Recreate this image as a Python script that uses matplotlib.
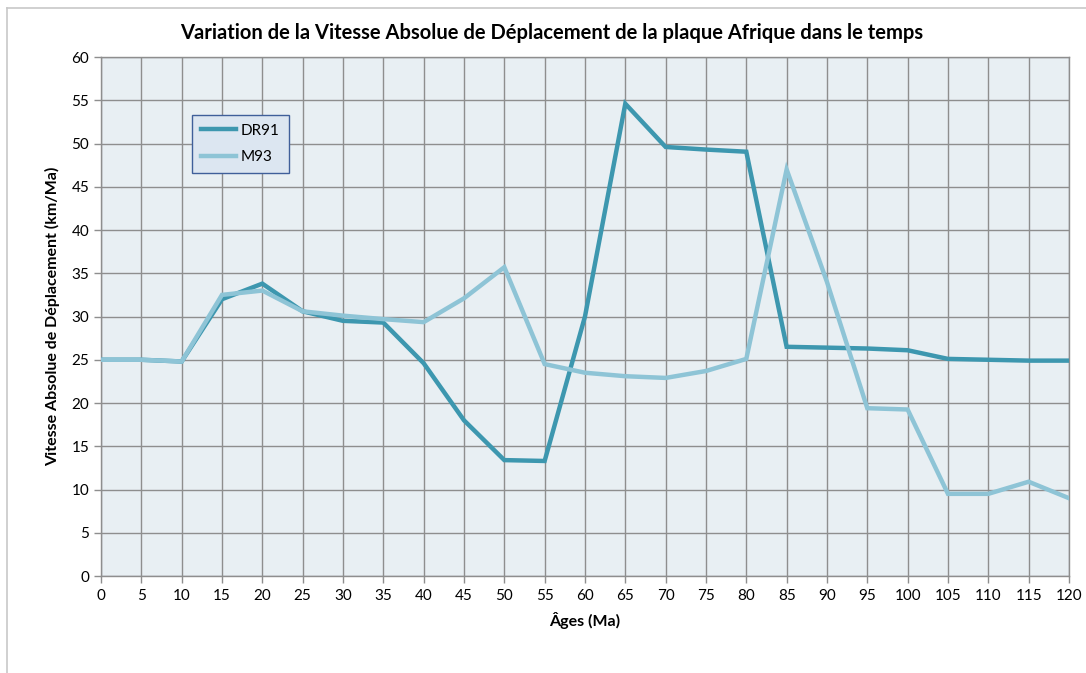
import matplotlib
matplotlib.use("Agg")
import matplotlib.pyplot as plt
from matplotlib.lines import Line2D

# Ages in Ma and velocities in km/Ma for the two models
ages = [0, 5, 10, 15, 20, 25, 30, 35, 40, 45, 50, 55, 60,
        65, 70, 75, 80, 85, 90, 95, 100, 105, 110, 115, 120]
dr91 = [25.0, 25.0, 24.8, 32.0, 33.8, 30.6, 29.5, 29.3, 24.6, 18.0, 13.4, 13.3, 30.0,
        54.6, 49.6, 49.3, 49.05, 26.5, 26.4, 26.3, 26.1, 25.1, 25.0, 24.9, 24.9]
m93 = [25.0, 25.0, 24.8, 32.5, 33.0, 30.6, 30.1, 29.7, 29.35, 32.1, 35.7, 24.5, 23.5,
       23.1, 22.9, 23.7, 25.1, 47.0, 34.0, 19.4, 19.25, 9.5, 9.5, 10.9, 9.0]

xticks = list(range(0, 121, 5))
yticks = list(range(0, 61, 5))

plt.rcParams['font.family'] = ['Lato', 'DejaVu Sans']

fig = plt.figure(figsize=(10.86, 6.73), dpi=100)
ax = fig.add_axes([0.093, 0.1441, 0.8913, 0.7712])
ax.set_facecolor('#E8EFF3')

grid_col = '#8E8E8E'
ax.grid(True, color=grid_col, linewidth=1.0)
ax.set_axisbelow(True)

ax.plot(ages, dr91, color='#3D97AF', linewidth=3.2, label='DR91', solid_joinstyle='miter', zorder=3)
ax.plot(ages, m93, color='#8EC4D6', linewidth=3.2, label='M93', solid_joinstyle='miter', zorder=3)

ax.set_xlim(0, 120)
ax.set_ylim(0, 60)
ax.set_xticks(xticks)
ax.set_yticks(yticks)
ax.tick_params(axis='both', colors=grid_col, length=5, width=1, labelsize=11,
               labelcolor='black', direction='out')
ax.tick_params(axis='x', pad=4)
for s in ax.spines.values():
    s.set_color(grid_col)
    s.set_linewidth(1.0)

ax.set_xlabel('Âges (Ma)', fontsize=11.5, fontweight='bold', labelpad=7)
ax.set_ylabel('Vitesse Absolue de Déplacement (km/Ma)', fontsize=11.5, fontweight='bold', labelpad=8)
fig.text(0.508, 0.951, 'Variation de la Vitesse Absolue de Déplacement de la plaque Afrique dans le temps',
         ha='center', va='center', fontsize=14.5, fontweight='bold')

leg = ax.legend(loc='upper left', bbox_to_anchor=(0.094, 0.889), frameon=True, fancybox=False,
                fontsize=11, handlelength=2.3, handletextpad=0.3, borderpad=0.6,
                labelspacing=0.8, borderaxespad=0)
leg.get_frame().set_facecolor('#DCE6F1')
leg.get_frame().set_edgecolor('#3F5F9A')
leg.get_frame().set_linewidth(1.0)
leg.get_frame().set_alpha(1)

# outer chart frame (top and left edges visible)
fig.add_artist(Line2D([7 / 1086, 1], [1 - 8 / 673, 1 - 8 / 673], color='#C8C8C8', lw=1.2))
fig.add_artist(Line2D([7 / 1086, 7 / 1086], [0, 1 - 8 / 673], color='#C8C8C8', lw=1.2))

fig.savefig('out.png', dpi=100)
